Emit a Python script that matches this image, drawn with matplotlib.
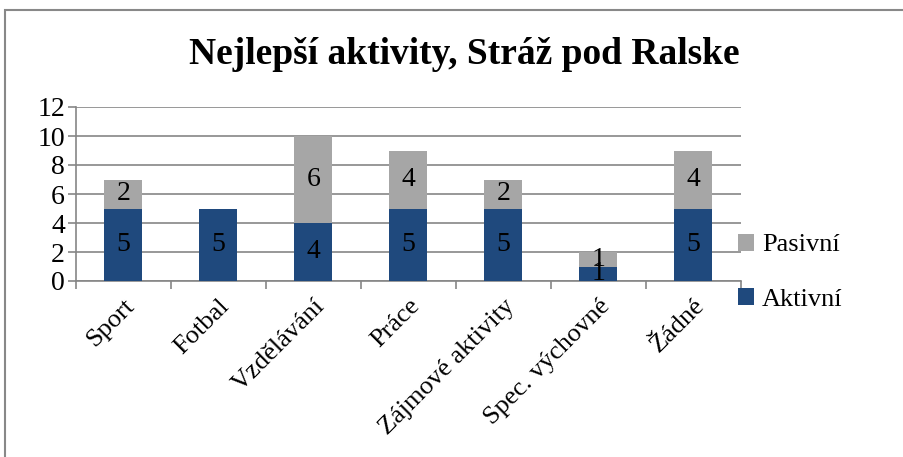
import matplotlib
matplotlib.use("Agg")
import matplotlib.pyplot as plt
from matplotlib.patches import Rectangle
import numpy as np

categories = ["Sport", "Fotbal", "Vzdělávání", "Práce", "Zájmové aktivity", "Spec. výchovné", "Žádné"]
aktivni = [5, 5, 4, 5, 5, 1, 5]
pasivni = [2, 0, 6, 4, 2, 1, 4]
yticks = [0, 2, 4, 6, 8, 10, 12]

plt.rcParams['font.family'] = ['Liberation Serif', 'DejaVu Serif']

W, H = 904, 457
fig = plt.figure(figsize=(W/100, H/100), dpi=100)
ax = fig.add_axes([76/W, 1-281/H, (741-76)/W, (281-107)/H])

x = np.arange(len(categories))
blue = "#1F497D"
gray = "#A6A6A6"
b1 = ax.bar(x, aktivni, width=0.4, color=blue, label="Aktivní", zorder=3)
b2 = ax.bar(x, pasivni, width=0.4, bottom=aktivni, color=gray, label="Pasivní", zorder=3)

for i in range(len(categories)):
    if aktivni[i]:
        ax.text(x[i], aktivni[i]/2, str(aktivni[i]), ha='center', va='center', fontsize=20, color='black', zorder=4)
    if pasivni[i]:
        ax.text(x[i], aktivni[i] + pasivni[i]/2, str(pasivni[i]), ha='center', va='center', fontsize=20, color='black', zorder=4)

ax.set_xlim(-0.5, len(categories)-0.5)
ax.set_ylim(0, 12)
ax.set_yticks(yticks)
ax.set_yticklabels([str(v) for v in yticks], fontsize=20)
ax.yaxis.grid(True, color="#868686", linewidth=1.2, zorder=0)
ax.set_axisbelow(True)
for s in ['top', 'right']:
    ax.spines[s].set_visible(False)
ax.spines['left'].set_color("#868686")
ax.spines['bottom'].set_color("#868686")
ax.spines['left'].set_linewidth(1.2)
ax.spines['bottom'].set_linewidth(1.2)
ax.tick_params(axis='y', length=6, color="#868686", width=1.2, pad=2, direction='out')
ax.set_xticks(np.arange(-0.5, len(categories)), minor=False)
ax.set_xticklabels([])
ax.tick_params(axis='x', length=6, color="#868686", width=1.2, direction='out')
ax.set_xticks(x, minor=True)
ax.set_xticklabels(categories, minor=True, rotation=45, ha='right', rotation_mode='anchor', fontsize=19)
ax.tick_params(axis='x', which='minor', length=0, pad=10)

fig.text(464/W, 1-55/H, "Nejlepší aktivity, Stráž pod Ralske", ha='center', va='center',
         fontsize=27, fontweight='bold')

leg = ax.legend(handles=[b2, b1], labels=["Pasivní", "Aktivní"], loc='center left',
                bbox_to_anchor=(0.96, 0.05), frameon=False, fontsize=19,
                handlelength=0.6, handleheight=0.6, handletextpad=0.3, labelspacing=1.2)

fig.patches.append(Rectangle((5/W, -0.1), 1.0, 1-10/H+0.1, transform=fig.transFigure,
                             fill=False, edgecolor="#888888", linewidth=1.5))

fig.savefig("out.png", dpi=100)
